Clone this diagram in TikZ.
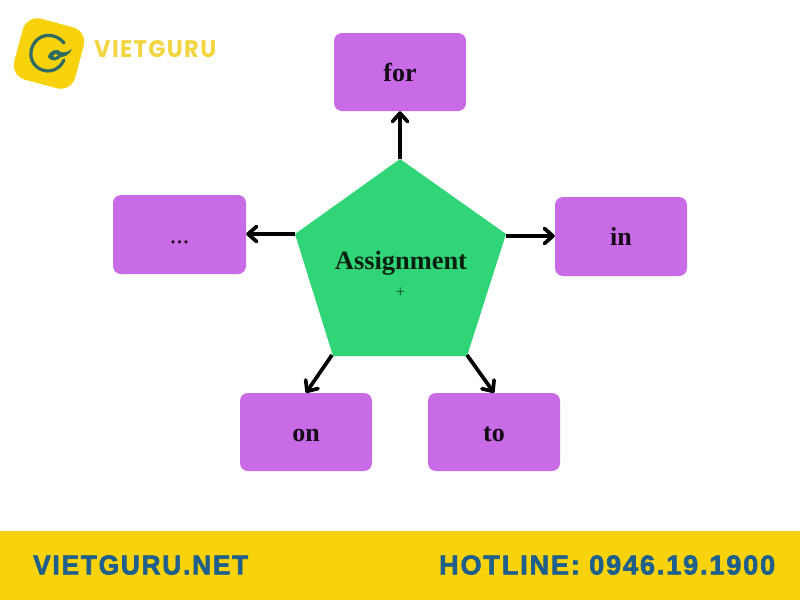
\documentclass[tikz,border=0pt]{standalone}
\usepackage{fontspec}
\setmainfont{Liberation Serif}
\newfontfamily\brandfont[BoldFeatures={LetterSpace=6}]{Poppins}
\newfontfamily\footfont[BoldFeatures={LetterSpace=7,FakeBold=2.5}]{Liberation Sans}
\usetikzlibrary{arrows.meta}
\definecolor{brandyellow}{HTML}{F8D20A}
\definecolor{logotext}{HTML}{F3D63F}
\definecolor{penta}{HTML}{2FD576}
\definecolor{boxpurple}{HTML}{C96BE6}
\definecolor{footblue}{HTML}{1F5F8B}
\definecolor{logogreen}{HTML}{2F6B62}
\tikzset{
  wordbox/.style={fill=boxpurple,rounded corners=8pt,minimum width=132pt,minimum height=78pt,inner sep=0pt,font=\fontsize{26}{28}\selectfont\bfseries,text=black!90!boxpurple,text height=18pt,text depth=0pt},
  conn/.style={draw=black,line width=3.7pt,-{Straight Barb[round,length=8.5pt,width=15pt]}},
  foot/.style={font=\footfont\bfseries\fontsize{24}{26}\selectfont,text=footblue,inner sep=0pt,anchor=west}
}
\begin{document}
\begin{tikzpicture}[x=1pt,y=-1pt]
\useasboundingbox (0,0) rectangle (800,600);
\fill[white] (0,0) rectangle (800,600);
% footer
\fill[brandyellow] (0,531) rectangle (800,600);
\node[foot] (site) at (33,565) {\resizebox{215pt}{19pt}{VIETGURU.NET}};
\node[foot] (hot) at (439,565) {\resizebox{336pt}{19pt}{HOTLINE: 0946.19.1900}};
% logo
\begin{scope}[shift={(49,53.5)},rotate=-15]
\fill[brandyellow,rounded corners=15pt] (-31.5,-31.5) rectangle (31.5,31.5);
\end{scope}
\draw[logogreen,line width=3.2pt,line cap=round] (64,43) .. controls (56,33) and (42,33) .. (35,42) .. controls (28,51) and (30,64) .. (40,69) .. controls (50,74) and (60,69) .. (64,60);
\fill[logogreen] (48,57) .. controls (49,50) and (58,48) .. (61,52) .. controls (64,53) and (68,52) .. (72,49) .. controls (70,54) and (65,57) .. (61,57) .. controls (58,61) and (50,62) .. (48,57) -- cycle;
\fill[brandyellow] (53,56) .. controls (54,54) and (57,53) .. (58,55) .. controls (57,57) and (54,58) .. (53,56) -- cycle;
\node[inner sep=0pt,anchor=west,text=logotext] (brand) at (94,49) {\resizebox{122pt}{17pt}{\brandfont\bfseries VIETGURU}};
% pentagon
\coordinate (pt) at (400,159);
\coordinate (pr) at (506,234);
\coordinate (pbr) at (467,356);
\coordinate (pbl) at (333,356);
\coordinate (pl) at (295,234);
\fill[penta] (pt) -- (pr) -- (pbr) -- (pbl) -- (pl) -- cycle;
\node[inner sep=0pt,font=\fontsize{26.4}{28}\selectfont\bfseries,text=black!85!penta] (assign) at (401,263) {Assignment};
\node[inner sep=0pt,font=\fontsize{17}{18}\selectfont,text=black!65!penta] (plus) at (400.5,293) {+};
% boxes
\node[wordbox] (for) at (400,72) {for};
\node[wordbox,minimum width=133pt,minimum height=79pt,font=\fontsize{26}{28}\selectfont] (dots) at (179.5,234.5) {...};
\node[wordbox,minimum height=79pt] (in) at (621,236.5) {in};
\node[wordbox] (on) at (306,432) {on};
\node[wordbox] (to) at (494,432) {to};
% connectors
\coordinate (sr) at (506,236);
\coordinate (sbr) at (467,355);
\coordinate (sbl) at (332,355);
\draw[conn] (pt) -- (for.south);
\draw[conn] (pl) -- (pl -| dots.east);
\draw[conn] (sr) -- (sr -| in.west);
\draw[conn] (sbl) -- (on.north);
\draw[conn] (sbr) -- (to.north);
\end{tikzpicture}
\end{document}
